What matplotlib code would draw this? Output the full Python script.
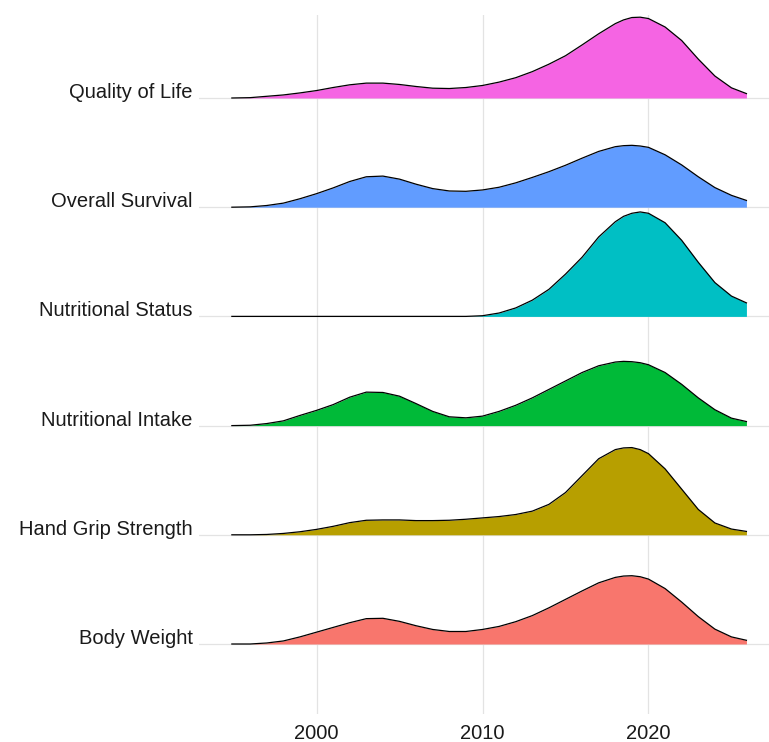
import numpy as np
import matplotlib
matplotlib.use("Agg")
import matplotlib.pyplot as plt

plt.rcParams['font.family'] = ['Liberation Sans', 'DejaVu Sans']

# outcome categories, bottom to top
outcomes = ["Body Weight", "Hand Grip Strength", "Nutritional Intake",
            "Nutritional Status", "Overall Survival", "Quality of Life"]
colors = ["#F8766D", "#B79F00", "#00BA38", "#00BFC4", "#619CFF", "#F564E3"]

# publication years where the density was read (extra points around the peaks)
years = [1994.9, 1996, 1997, 1998, 1999, 2000, 2001, 2002, 2003, 2004, 2005,
         2006, 2007, 2008, 2009, 2010, 2011, 2012, 2013, 2014, 2015, 2016,
         2017, 2018, 2018.5, 2019, 2019.5, 2020, 2021, 2022, 2023, 2024, 2025, 2025.9]

# density heights (arbitrary units)
body_weight = [0, 0, 3, 9, 21, 35, 49, 63, 75, 76, 67, 54, 43, 37, 37, 43, 52,
               66, 84, 107, 132, 157, 181, 197, 201, 202, 199, 192, 164, 124, 81, 44, 21, 11]
hand_grip = [0, 0, 1, 4, 9, 16, 25, 36, 43, 44, 44, 42, 42, 43, 46, 50, 54,
             60, 70, 90, 125, 175, 225, 252, 257, 258, 252, 240, 195, 135, 75, 35, 17, 10]
nutr_intake = [0, 1, 6, 14, 30, 45, 62, 84, 99, 98, 87, 65, 42, 26, 23, 28, 42,
               60, 82, 107, 132, 157, 177, 188, 190, 189, 186, 180, 157, 122, 82, 47, 22, 12]
nutr_status = [0, 0, 0, 0, 0, 0, 0, 0, 0, 0, 0, 0, 0, 0, 0, 2, 10,
               25, 48, 80, 125, 175, 235, 280, 296, 305, 309, 305, 277, 225, 160, 100, 60, 40]
overall_surv = [0, 1, 5, 12, 25, 40, 57, 76, 90, 92, 83, 68, 55, 48, 47, 51, 59,
                72, 88, 105, 124, 145, 165, 179, 182, 183, 181, 177, 155, 125, 90, 58, 35, 20]
quality_life = [0, 1, 5, 9, 15, 22, 31, 39, 44, 44, 40, 34, 29, 28, 31, 37, 47,
                60, 78, 100, 125, 157, 190, 220, 231, 238, 239, 235, 210, 170, 115, 65, 30, 13]

series = [body_weight, hand_grip, nutr_intake, nutr_status, overall_surv, quality_life]
scale = 1.0 / 323.0

fig = plt.figure(figsize=(7.69, 7.42), dpi=100)
ax = fig.add_axes([199 / 769, 28 / 742, 570 / 769, 699 / 742])

ax.set_xlim(1992.92, 2027.26)
ax.set_ylim(-0.641, 5.76)

# lower rows drawn over upper rows
for i in range(len(outcomes) - 1, -1, -1):
    dens = np.array(series[i]) * scale
    z = 10 + (len(outcomes) - i)
    ax.fill_between(years, i, i + dens, color=colors[i], lw=0, zorder=z)
    ax.plot(years, i + dens, color="black", lw=0.9, zorder=z + 0.5)

ax.set_xticks([2000, 2010, 2020])
ax.set_yticks(range(len(outcomes)))
ax.set_yticklabels(outcomes)
for lab in ax.get_yticklabels():
    lab.set_va("baseline")
ax.tick_params(axis="both", length=0, labelsize=14.5, colors="#1a1a1a")
ax.tick_params(axis="y", pad=4.5)
ax.tick_params(axis="x", pad=7)

ax.grid(True, color="#e3e3e3", lw=0.9)
ax.set_axisbelow(True)
for s in ax.spines.values():
    s.set_visible(False)

fig.savefig("out.png", dpi=100, facecolor="white")
